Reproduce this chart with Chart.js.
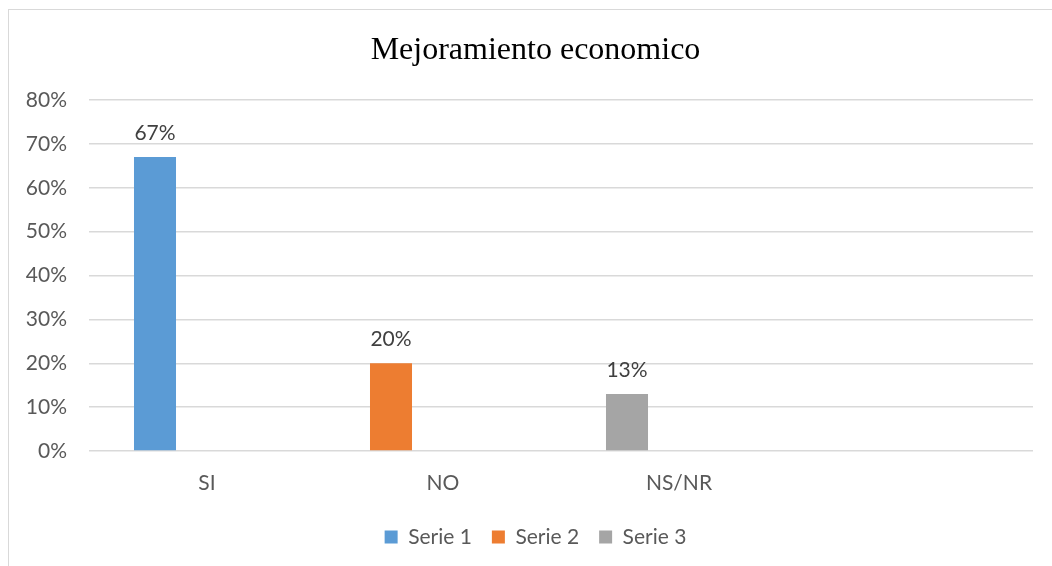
<!DOCTYPE html>
<html>
<head>
<meta charset="utf-8">
<script src="https://cdn.jsdelivr.net/npm/chart.js@4.4.1/dist/chart.umd.min.js"></script>
<style>
  html, body { margin: 0; padding: 0; background: #ffffff; overflow: hidden; }
  #frame { position: absolute; left: 8px; top: 9px; width: 1100px; height: 600px;
           border-left: 1.5px solid #d9d9d9; border-top: 1.5px solid #d9d9d9; }
  #wrap { position: absolute; left: 0; top: 0; width: 1052px; height: 566px; }
</style>
</head>
<body>
<div id="frame"></div>
<div id="wrap"><canvas id="c" width="1052" height="566"></canvas></div>
<script>
const chartTitle = 'Mejoramiento economico';
const categories = ['SI', 'NO', 'NS/NR', ''];
const seriesNames = ['Serie 1', 'Serie 2', 'Serie 3'];
const serie1Values = [0.67, 0.20, 0.13, null];
const serie2Values = [null, null, null, null];
const serie3Values = [null, null, null, null];
const seriesColors = ['#5B9BD5', '#ED7D31', '#A5A5A5'];
const pointColors = ['#5B9BD5', '#ED7D31', '#A5A5A5', '#5B9BD5'];
const yTicks = [0, 0.1, 0.2, 0.3, 0.4, 0.5, 0.6, 0.7, 0.8];

const FONT = 'Lato, Carlito, "Open Sans", sans-serif';
const FS = 21;

const valueLabels = {
  id: 'valueLabels',
  afterDatasetsDraw(chart) {
    const ctx = chart.ctx;
    ctx.save();
    ctx.font = FS + 'px ' + FONT;
    ctx.fillStyle = '#404040';
    ctx.textAlign = 'center';
    ctx.textBaseline = 'middle';
    chart.data.datasets.forEach((ds, di) => {
      const meta = chart.getDatasetMeta(di);
      meta.data.forEach((bar, i) => {
        const v = ds.data[i];
        if (v === null || v === undefined) return;
        ctx.fillText(Math.round(v * 100) + '%', bar.x, bar.y - 24);
      });
    });
    ctx.restore();
  }
};

new Chart(document.getElementById('c'), {
  type: 'bar',
  data: {
    labels: categories,
    datasets: [
      { label: seriesNames[0], data: serie1Values,
        backgroundColor: (c) => c.type === 'data' ? pointColors[c.dataIndex] : seriesColors[0] },
      { label: seriesNames[1], data: serie2Values, backgroundColor: seriesColors[1] },
      { label: seriesNames[2], data: serie3Values, backgroundColor: seriesColors[2] }
    ]
  },
  options: {
    responsive: false,
    animation: false,
    categoryPercentage: 0.661,
    barPercentage: 0.808,
    layout: { padding: { left: 19, right: 0, top: 22, bottom: 8.5 } },
    plugins: {
      title: {
        display: true, text: chartTitle, color: '#000000',
        font: { family: '"Liberation Serif", "Times New Roman", serif', size: 32, weight: 'normal' },
        padding: { top: 9, bottom: 30.6 }
      },
      legend: {
        position: 'bottom',
        labels: {
          color: '#595959', font: { family: FONT, size: FS },
          boxWidth: 13, boxHeight: 13, padding: 20
        }
      },
      tooltip: { enabled: false }
    },
    scales: {
      x: {
        afterFit(scale) { scale.height = 55.5; },
        grid: { display: false, drawTicks: false },
        border: { display: false },
        ticks: { color: '#595959', font: { family: FONT, size: FS }, padding: 20 }
      },
      y: {
        min: 0, max: 0.8,
        afterFit(scale) { scale.width = 70; },
        afterBuildTicks(scale) { scale.ticks = yTicks.map(v => ({ value: v })); },
        grid: { color: '#d9d9d9', lineWidth: 1.5, drawTicks: false },
        border: { display: false },
        ticks: {
          color: '#595959', font: { family: FONT, size: FS }, padding: 22,
          callback: (v) => Math.round(v * 100) + '%'
        }
      },
      yRight: {
        position: 'right', min: 0, max: 0.8,
        afterFit(scale) { scale.width = 19; },
        grid: { display: false, drawTicks: false },
        border: { display: false },
        ticks: { display: false }
      }
    }
  },
  plugins: [valueLabels]
});
</script>
</body>
</html>
